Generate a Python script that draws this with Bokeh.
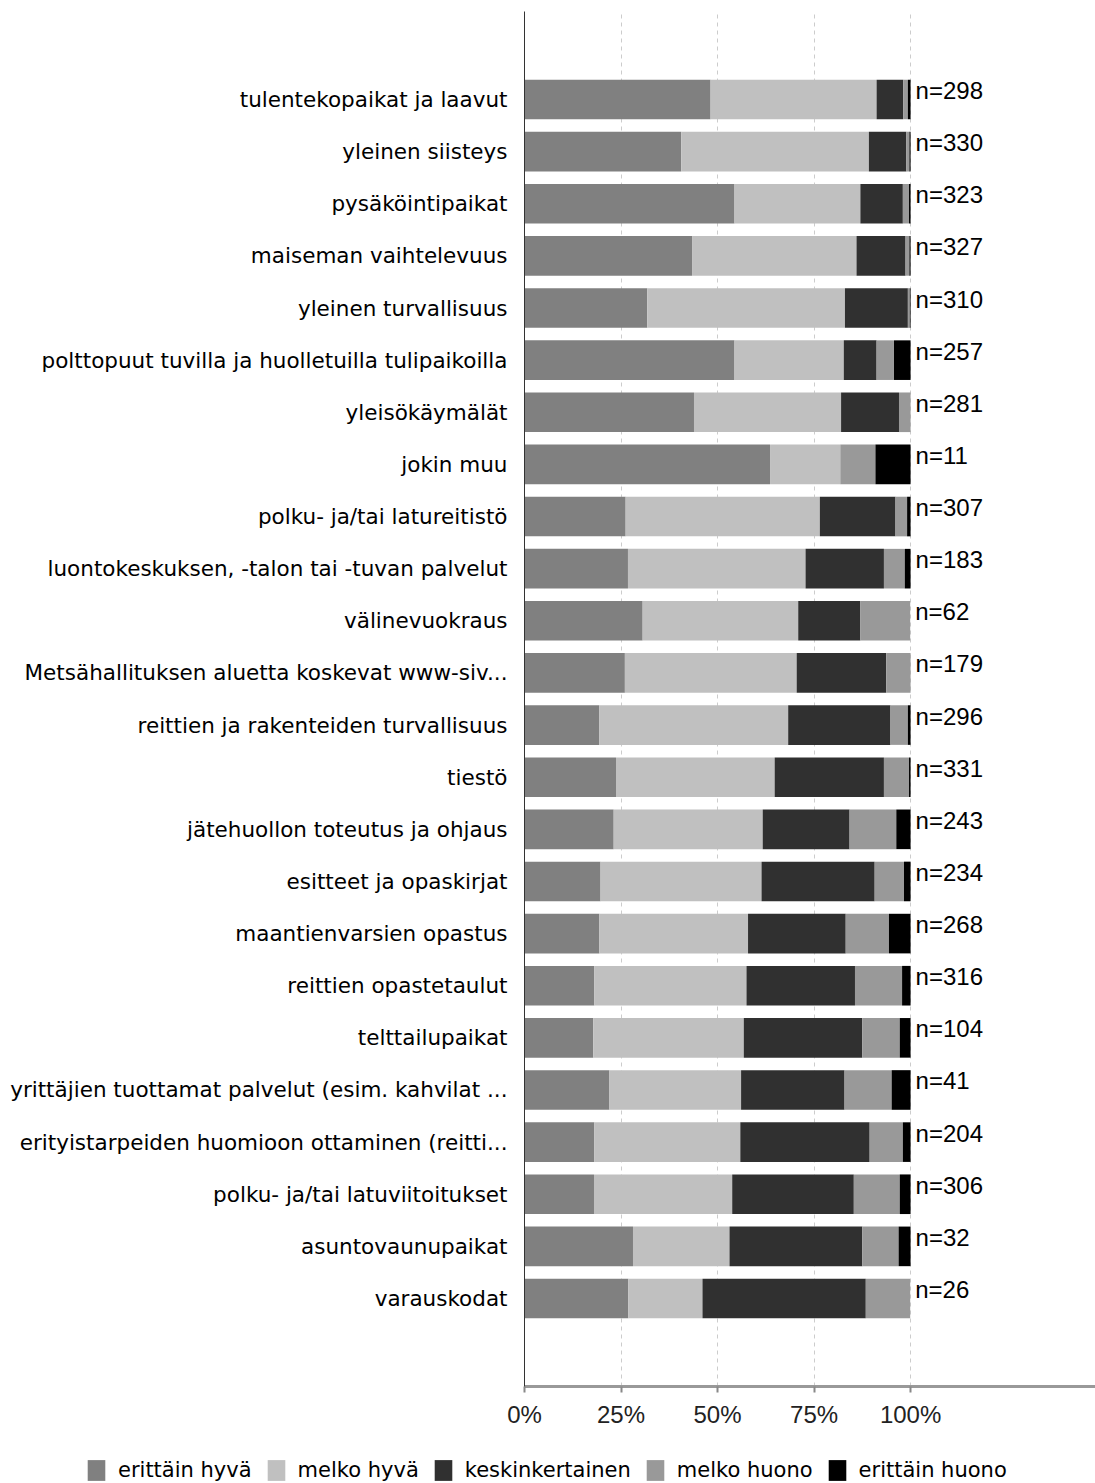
from bokeh.plotting import figure
from bokeh.models import (ColumnDataSource, FactorRange, Range1d, FixedTicker,
                          PrintfTickFormatter, Legend, LegendItem)
from bokeh.core.properties import value
from bokeh.embed import file_html
from bokeh.resources import INLINE

categories = [
    "tulentekopaikat ja laavut",
    "yleinen siisteys",
    "pysäköintipaikat",
    "maiseman vaihtelevuus",
    "yleinen turvallisuus",
    "polttopuut tuvilla ja huolletuilla tulipaikoilla",
    "yleisökäymälät",
    "jokin muu",
    "polku- ja/tai latureitistö",
    "luontokeskuksen, -talon tai -tuvan palvelut",
    "välinevuokraus",
    "Metsähallituksen aluetta koskevat www-siv...",
    "reittien ja rakenteiden turvallisuus",
    "tiestö",
    "jätehuollon toteutus ja ohjaus",
    "esitteet ja opaskirjat",
    "maantienvarsien opastus",
    "reittien opastetaulut",
    "telttailupaikat",
    "yrittäjien tuottamat palvelut (esim. kahvilat ...",
    "erityistarpeiden huomioon ottaminen (reitti...",
    "polku- ja/tai latuviitoitukset",
    "asuntovaunupaikat",
    "varauskodat",
]
n_counts = [298, 330, 323, 327, 310, 257, 281, 11, 307, 183, 62, 179,
            296, 331, 243, 234, 268, 316, 104, 41, 204, 306, 32, 26]

erittain_hyva = [48.2, 40.6, 54.4, 43.4, 31.8, 54.4, 43.9, 63.6, 26.2, 26.8, 30.6, 26.0,
                 19.4, 23.7, 23.1, 19.7, 19.4, 18.1, 17.8, 22.0, 18.1, 18.0, 28.1, 26.9]
melko_hyva = [43.0, 48.6, 32.6, 42.6, 51.2, 28.3, 38.1, 18.2, 50.3, 46.0, 40.3, 44.5,
              48.9, 41.1, 38.6, 41.7, 38.5, 39.4, 39.0, 34.1, 37.8, 35.8, 25.0, 19.2]
keskinkertainen = [6.9, 9.7, 11.0, 12.7, 16.3, 8.5, 15.0, 0.0, 19.6, 20.3, 16.1, 23.2,
                   26.5, 28.3, 22.5, 29.3, 25.3, 28.1, 30.7, 26.8, 33.5, 31.5, 34.4, 42.3]
melko_huono = [1.2, 0.8, 1.6, 1.0, 0.5, 4.5, 3.0, 9.1, 3.0, 5.4, 12.9, 6.3,
               4.5, 6.5, 12.1, 7.6, 11.2, 12.2, 9.7, 12.2, 8.6, 11.9, 9.4, 11.5]
erittain_huono = [0.7, 0.3, 0.4, 0.3, 0.2, 4.3, 0.0, 9.1, 0.9, 1.5, 0.0, 0.0,
                  0.7, 0.4, 3.7, 1.7, 5.6, 2.2, 2.8, 4.9, 2.0, 2.8, 3.1, 0.0]

series_labels = ["erittäin hyvä", "melko hyvä", "keskinkertainen", "melko huono", "erittäin huono"]
series_keys = ["s1", "s2", "s3", "s4", "s5"]
colors = ["#808080", "#c0c0c0", "#303030", "#999999", "#000000"]

LABEL_FONT = "DejaVu Sans"
NUM_FONT = "Liberation Sans"

source = ColumnDataSource(dict(
    cat=categories,
    s1=erittain_hyva, s2=melko_hyva, s3=keskinkertainen, s4=melko_huono, s5=erittain_huono,
    total=[a + b + c + d + e for a, b, c, d, e in zip(erittain_hyva, melko_hyva, keskinkertainen,
                                                      melko_huono, erittain_huono)],
    ntext=["n=%d" % n for n in n_counts],
))

y_range = FactorRange(factors=list(reversed(categories)), range_padding=0.099)

p = figure(width=1095, height=1430, y_range=y_range, x_range=Range1d(0, 147.9),
           output_backend="svg", toolbar_location=None,
           min_border_left=524, min_border_top=11, min_border_right=0, min_border_bottom=42)
p.outline_line_color = None

p.hbar_stack(series_keys, y="cat", height=0.76, color=colors, line_color=None, source=source)

p.text(x="total", y="cat", text="ntext", source=source, x_offset=5, y_offset=-9,
       text_align="left", text_baseline="middle", text_font=value(NUM_FONT),
       text_font_size="24px", text_color="#000000")

# axes
p.yaxis.major_tick_line_color = None
p.yaxis.minor_tick_line_color = None
p.yaxis.axis_line_color = "#333333"
p.yaxis.axis_line_width = 1
p.yaxis.major_label_text_font = LABEL_FONT
p.yaxis.major_label_text_font_size = "21.5px"
p.yaxis.major_label_text_color = "#000000"
p.yaxis.major_label_standoff = 11

p.xaxis.ticker = FixedTicker(ticks=[0, 25, 50, 75, 100])
p.xaxis.formatter = PrintfTickFormatter(format="%d%%")
p.xaxis.axis_line_color = "#999999"
p.xaxis.axis_line_width = 3
p.xaxis.major_tick_line_color = "#888888"
p.xaxis.major_tick_line_width = 2
p.xaxis.major_tick_out = 6
p.xaxis.major_tick_in = 0
p.xaxis.minor_tick_line_color = None
p.xaxis.major_label_text_font = NUM_FONT
p.xaxis.major_label_text_font_size = "24px"
p.xaxis.major_label_text_color = "#222222"
p.xaxis.major_label_standoff = 8

p.ygrid.grid_line_color = None
p.xgrid.ticker = FixedTicker(ticks=[25, 50, 75, 100])
p.xgrid.grid_line_color = "#cccccc"
p.xgrid.grid_line_dash = "4 4"
p.xgrid.grid_line_width = 1

# legend strip (separate root, no axes)
p2 = figure(width=1095, height=53, x_range=Range1d(0, 1), y_range=Range1d(0, 1),
            x_axis_location=None, y_axis_location=None,
            output_backend="svg", toolbar_location=None,
            min_border_left=0, min_border_right=0, min_border_top=0, min_border_bottom=0)
p2.grid.visible = False
p2.outline_line_color = None
items = []
for lab, c in zip(series_labels, colors):
    r = p2.vbar(x=[-5.0], top=[-5.0], bottom=[-6.0], width=0.1, fill_color=c, line_color=None)
    items.append(LegendItem(label=lab, renderers=[r]))
legend = Legend(items=items, orientation="horizontal", location=(85, 0),
                glyph_width=22, glyph_height=26, label_standoff=11, spacing=13,
                label_text_font=LABEL_FONT, label_text_font_size="21px",
                label_text_color="#000000", padding=0, margin=0,
                border_line_color=None, background_fill_alpha=0)
p2.add_layout(legend, "center")

open("out.html", "w").write(file_html([p, p2], INLINE))
